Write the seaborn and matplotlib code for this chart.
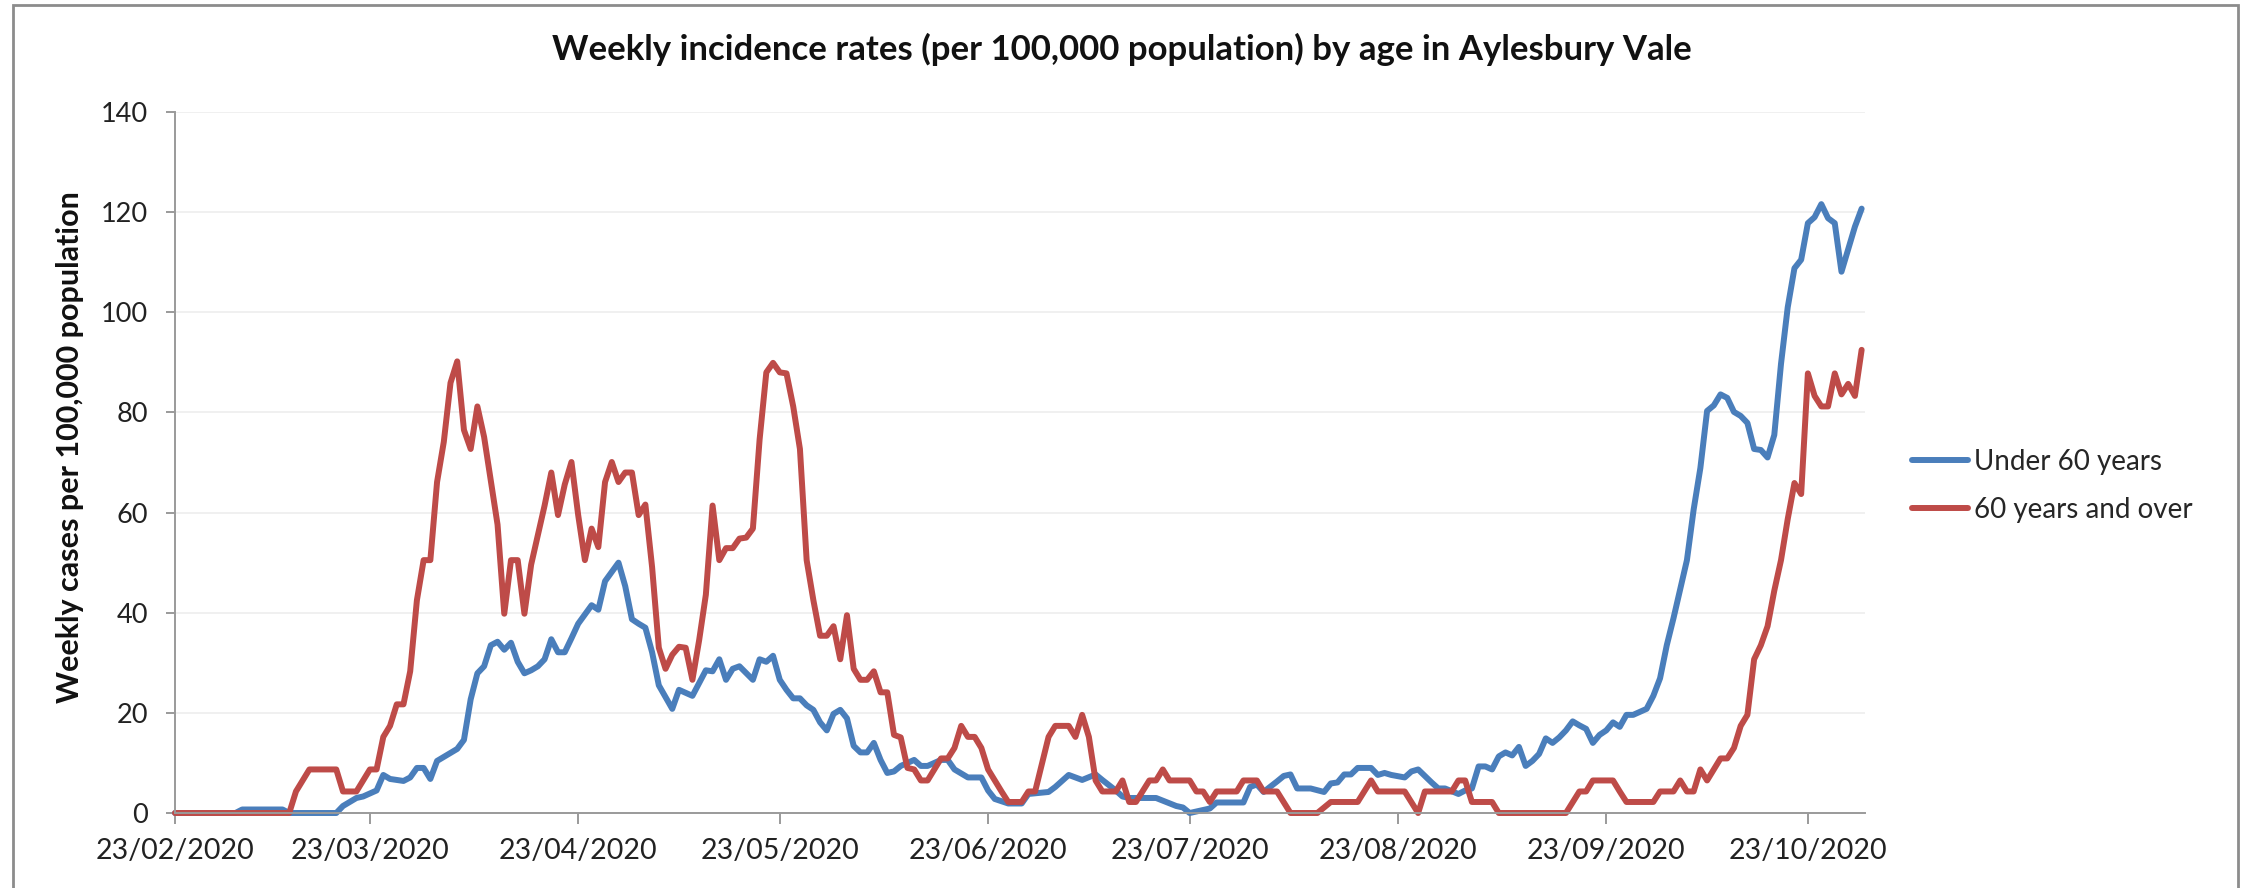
import pandas as pd
import matplotlib.pyplot as plt
import matplotlib.dates as mdates
from matplotlib.patches import Rectangle
import seaborn as sns

# days counted from 23/02/2020
start = pd.Timestamp('2020-02-23')

under60_day = [0, 9, 10, 16, 17, 24, 25, 27, 28, 30, 31, 32, 34, 35, 36, 37, 38, 39, 40, 41, 42,
               43, 44, 45, 46, 47, 48, 49, 50, 51, 52, 53, 54, 55, 56, 57, 58, 59, 60, 62, 63, 64,
               66, 67, 68, 69, 70, 71, 72, 74, 75, 77, 79, 80, 81, 82, 83, 84, 86, 87, 88, 89, 90,
               91, 92, 93, 94, 95, 96, 97, 98, 99, 100, 101, 102, 103, 104, 105, 106, 107, 108,
               110, 111, 112, 114, 115, 116, 118, 120, 121, 122, 124, 126, 127, 130, 131, 133,
               135, 137, 138, 140, 141, 142, 146, 149, 150, 151, 154, 155, 159, 160, 161, 162,
               164, 165, 166, 167, 169, 171, 172, 173, 174, 175, 176, 178, 179, 180, 181, 183,
               184, 185, 187, 188, 189, 191, 192, 193, 194, 195, 196, 197, 198, 199, 200, 201,
               202, 203, 204, 205, 206, 207, 208, 209, 210, 211, 212, 213, 214, 215, 216, 217,
               219, 220, 221, 222, 223, 225, 226, 227, 228, 229, 230, 231, 232, 233, 234, 235,
               236, 237, 238, 239, 240, 241, 242, 243, 244, 245, 246, 247, 248, 249, 250, 251]
under60_rate = [0, 0, 0.7, 0.7, 0, 0, 1.4, 3.0, 3.3, 4.5, 7.6, 6.8, 6.4, 7.1, 9.0, 9.0, 6.8, 10.4, 11.2, 12.0, 12.8,
                14.6, 22.7, 27.9, 29.3, 33.5, 34.2, 32.6, 34.0, 30.2, 27.9, 28.5, 29.3, 30.7, 34.7, 32.1, 32.1, 34.9, 37.8, 41.5, 40.6, 46.3,
                50.0, 45.3, 38.7, 37.8, 37.0, 32.1, 25.5, 20.8, 24.6, 23.4, 28.5, 28.3, 30.7, 26.6, 28.8, 29.3, 26.6, 30.7, 30.2, 31.4, 26.6,
                24.6, 22.9, 22.9, 21.5, 20.6, 18.1, 16.5, 19.8, 20.6, 18.9, 13.4, 12.1, 12.1, 14.0, 10.6, 8.0, 8.3, 9.4,
                10.6, 9.4, 9.4, 10.6, 10.6, 8.7, 7.1, 7.1, 4.5, 2.8, 1.9, 1.9, 3.8, 4.2, 5.2, 7.6,
                6.6, 7.7, 6.6, 4.5, 3.3, 3.0, 3.0, 1.4, 1.1, 0, 0.9, 2.1, 2.1, 5.2, 5.7, 4.2,
                6.3, 7.4, 7.7, 4.9, 4.9, 4.2, 5.9, 6.1, 7.7, 7.7, 9.0, 9.0, 7.6, 8.0, 7.6, 7.1,
                8.3, 8.7, 6.1, 4.9, 4.9, 3.8, 4.5, 4.9, 9.3, 9.3, 8.7, 11.3, 12.1, 11.5, 13.2, 9.4,
                10.4, 11.8, 14.9, 14.0, 15.1, 16.5, 18.3, 17.5, 16.8, 14.0, 15.6, 16.5, 18.1, 17.2, 19.6, 19.6,
                20.8, 23.4, 26.9, 33.5, 38.9, 50.5, 60.6, 68.9, 80.3, 81.4, 83.6, 82.9, 80.1, 79.3, 77.9, 72.7,
                72.5, 71.0, 75.5, 89.7, 101.0, 108.8, 110.5, 117.8, 119.0, 121.6, 118.8, 117.8, 108.1, 112.6, 117.1, 120.7]

over60_day = [0, 17, 18, 20, 24, 25, 27, 29, 30, 31, 32, 33, 34, 35, 36, 37, 38, 39, 40, 41, 42,
              43, 44, 45, 46, 48, 49, 50, 51, 52, 53, 55, 56, 57, 58, 59, 60, 61, 62, 63, 64, 65,
              66, 67, 68, 69, 70, 71, 72, 73, 74, 75, 76, 77, 78, 79, 80, 81, 82, 83, 84, 85, 86,
              87, 88, 89, 90, 91, 92, 93, 94, 95, 96, 97, 98, 99, 100, 101, 102, 103, 104, 105,
              106, 107, 108, 109, 110, 111, 112, 113, 114, 115, 116, 117, 118, 119, 120, 121,
              122, 123, 124, 126, 127, 128, 130, 131, 133, 134, 135, 136, 137, 138, 140, 141,
              142, 143, 145, 146, 147, 148, 151, 152, 153, 154, 155, 158, 159, 161, 162, 164,
              166, 170, 172, 176, 178, 179, 183, 185, 186, 190, 191, 192, 193, 196, 197, 207,
              209, 210, 211, 214, 215, 216, 220, 221, 223, 224, 225, 226, 227, 228, 229, 230,
              231, 232, 233, 234, 235, 236, 237, 238, 239, 240, 241, 242, 243, 244, 245, 246,
              247, 248, 249, 250, 251]
over60_rate = [0, 0, 4.3, 8.7, 8.7, 4.3, 4.3, 8.7, 8.7, 15.2, 17.4, 21.7, 21.7, 28.3, 42.5, 50.5, 50.5, 66.1, 74.1, 85.9, 90.2,
               76.5, 72.7, 81.2, 75.1, 57.6, 39.8, 50.5, 50.5, 39.8, 49.6, 61.4, 68.0, 59.5, 65.6, 70.1, 59.5, 50.5, 56.8, 53.1, 66.1, 70.1,
               66.1, 68.0, 68.0, 59.5, 61.6, 49.1, 33.0, 28.8, 31.6, 33.2, 33.0, 26.6, 34.5, 43.6, 61.4, 50.5, 52.9, 52.9, 54.8, 55.0, 56.8,
               74.6, 88.0, 89.9, 88.0, 87.8, 81.2, 72.7, 50.5, 42.5, 35.4, 35.4, 37.3, 30.7, 39.5, 28.8, 26.6, 26.6, 28.3, 24.1,
               24.1, 15.6, 15.1, 9.0, 8.7, 6.5, 6.5, 8.7, 10.9, 10.9, 13.0, 17.4, 15.2, 15.2, 13.0, 8.7,
               6.5, 4.3, 2.2, 2.2, 4.3, 4.3, 15.2, 17.4, 17.4, 15.2, 19.6, 15.2, 6.5, 4.3, 4.3, 6.5,
               2.2, 2.2, 6.5, 6.5, 8.7, 6.5, 6.5, 4.3, 4.3, 2.2, 4.3, 4.3, 6.5, 6.5, 4.3, 4.3,
               0, 0, 2.2, 2.2, 6.5, 4.3, 4.3, 0, 4.3, 4.3, 6.5, 6.5, 2.2, 2.2, 0, 0,
               4.3, 4.3, 6.5, 6.5, 4.3, 2.2, 2.2, 4.3, 4.3, 6.5, 4.3, 4.3, 8.7, 6.5, 8.7, 10.9,
               10.9, 13.0, 17.4, 19.6, 30.7, 33.5, 37.3, 44.4, 50.5, 58.7, 65.9, 63.7, 87.8, 83.3, 81.2, 81.2,
               87.8, 83.6, 85.7, 83.3, 92.5]

series_names = ['Under 60 years', '60 years and over']
line_colours = ['#4A7EBB', '#BE4B48']
tick_labels = ['23/02/2020', '23/03/2020', '23/04/2020', '23/05/2020', '23/06/2020',
               '23/07/2020', '23/08/2020', '23/09/2020', '23/10/2020']
y_ticks = [0, 20, 40, 60, 80, 100, 120, 140]

df = pd.concat([
    pd.DataFrame({'date': start + pd.to_timedelta(under60_day, unit='D'),
                  'rate': under60_rate, 'group': series_names[0]}),
    pd.DataFrame({'date': start + pd.to_timedelta(over60_day, unit='D'),
                  'rate': over60_rate, 'group': series_names[1]}),
], ignore_index=True)

sns.set_style('white')
plt.rcParams['font.family'] = ['Lato', 'DejaVu Sans']

fig = plt.figure(figsize=(22.44, 8.88), dpi=100)
ax = fig.add_axes([175 / 2244, 1 - 813 / 888, 1690 / 2244, 701 / 888])

sns.lineplot(data=df, x='date', y='rate', hue='group', hue_order=series_names,
             palette=dict(zip(series_names, line_colours)), estimator=None,
             linewidth=4.3, ax=ax, solid_joinstyle='round', solid_capstyle='round')
for ln in ax.get_lines():
    ln.set_clip_on(False)

ax.set_ylim(0, 140)
ax.set_yticks(y_ticks)
ax.set_xlim(start, start + pd.Timedelta(days=251.5))
ax.set_xticks(pd.to_datetime(tick_labels, format='%d/%m/%Y'))
ax.xaxis.set_major_formatter(mdates.DateFormatter('%d/%m/%Y'))

ax.grid(axis='y', color='#EDEDED', linewidth=1.2)
ax.grid(axis='x', visible=False)
ax.set_axisbelow(True)
for side in ['top', 'right']:
    ax.spines[side].set_visible(False)
for side in ['left', 'bottom']:
    ax.spines[side].set_color('#9A9A9A')
    ax.spines[side].set_linewidth(1.4)
ax.tick_params(axis='y', length=6.5, width=1.4, color='#9A9A9A', pad=13,
               labelsize=19.5, labelcolor='#222222', direction='out', left=True)
ax.tick_params(axis='x', length=8, width=1.4, color='#9A9A9A', pad=10,
               labelsize=20.5, labelcolor='#222222', direction='out', bottom=True)

ax.set_xlabel('')
ax.set_ylabel('Weekly cases per 100,000 population', fontsize=22, fontweight='bold', color='#111111')
ax.yaxis.set_label_coords(-0.054, 0.522)

fig.text(0.5, 1 - 49 / 888, 'Weekly incidence rates (per 100,000 population) by age in Aylesbury Vale',
         ha='center', va='center', fontsize=25, fontweight='bold', color='#111111')

handles, labels = ax.get_legend_handles_labels()
ax.legend(handles, labels, loc='center left', bbox_to_anchor=(1912 / 2244, 1 - 486 / 888),
          bbox_transform=fig.transFigure, frameon=False, fontsize=20, handlelength=2.0,
          handletextpad=0.25, labelspacing=0.8, borderpad=0, borderaxespad=0)

# chart border
fig.patches.append(Rectangle((13 / 2244, -0.05), (2238 - 13) / 2244, 1.05 - 5 / 888,
                             transform=fig.transFigure, fill=False,
                             edgecolor='#8C8C8C', linewidth=2))

fig.savefig('out.png', dpi=100)
